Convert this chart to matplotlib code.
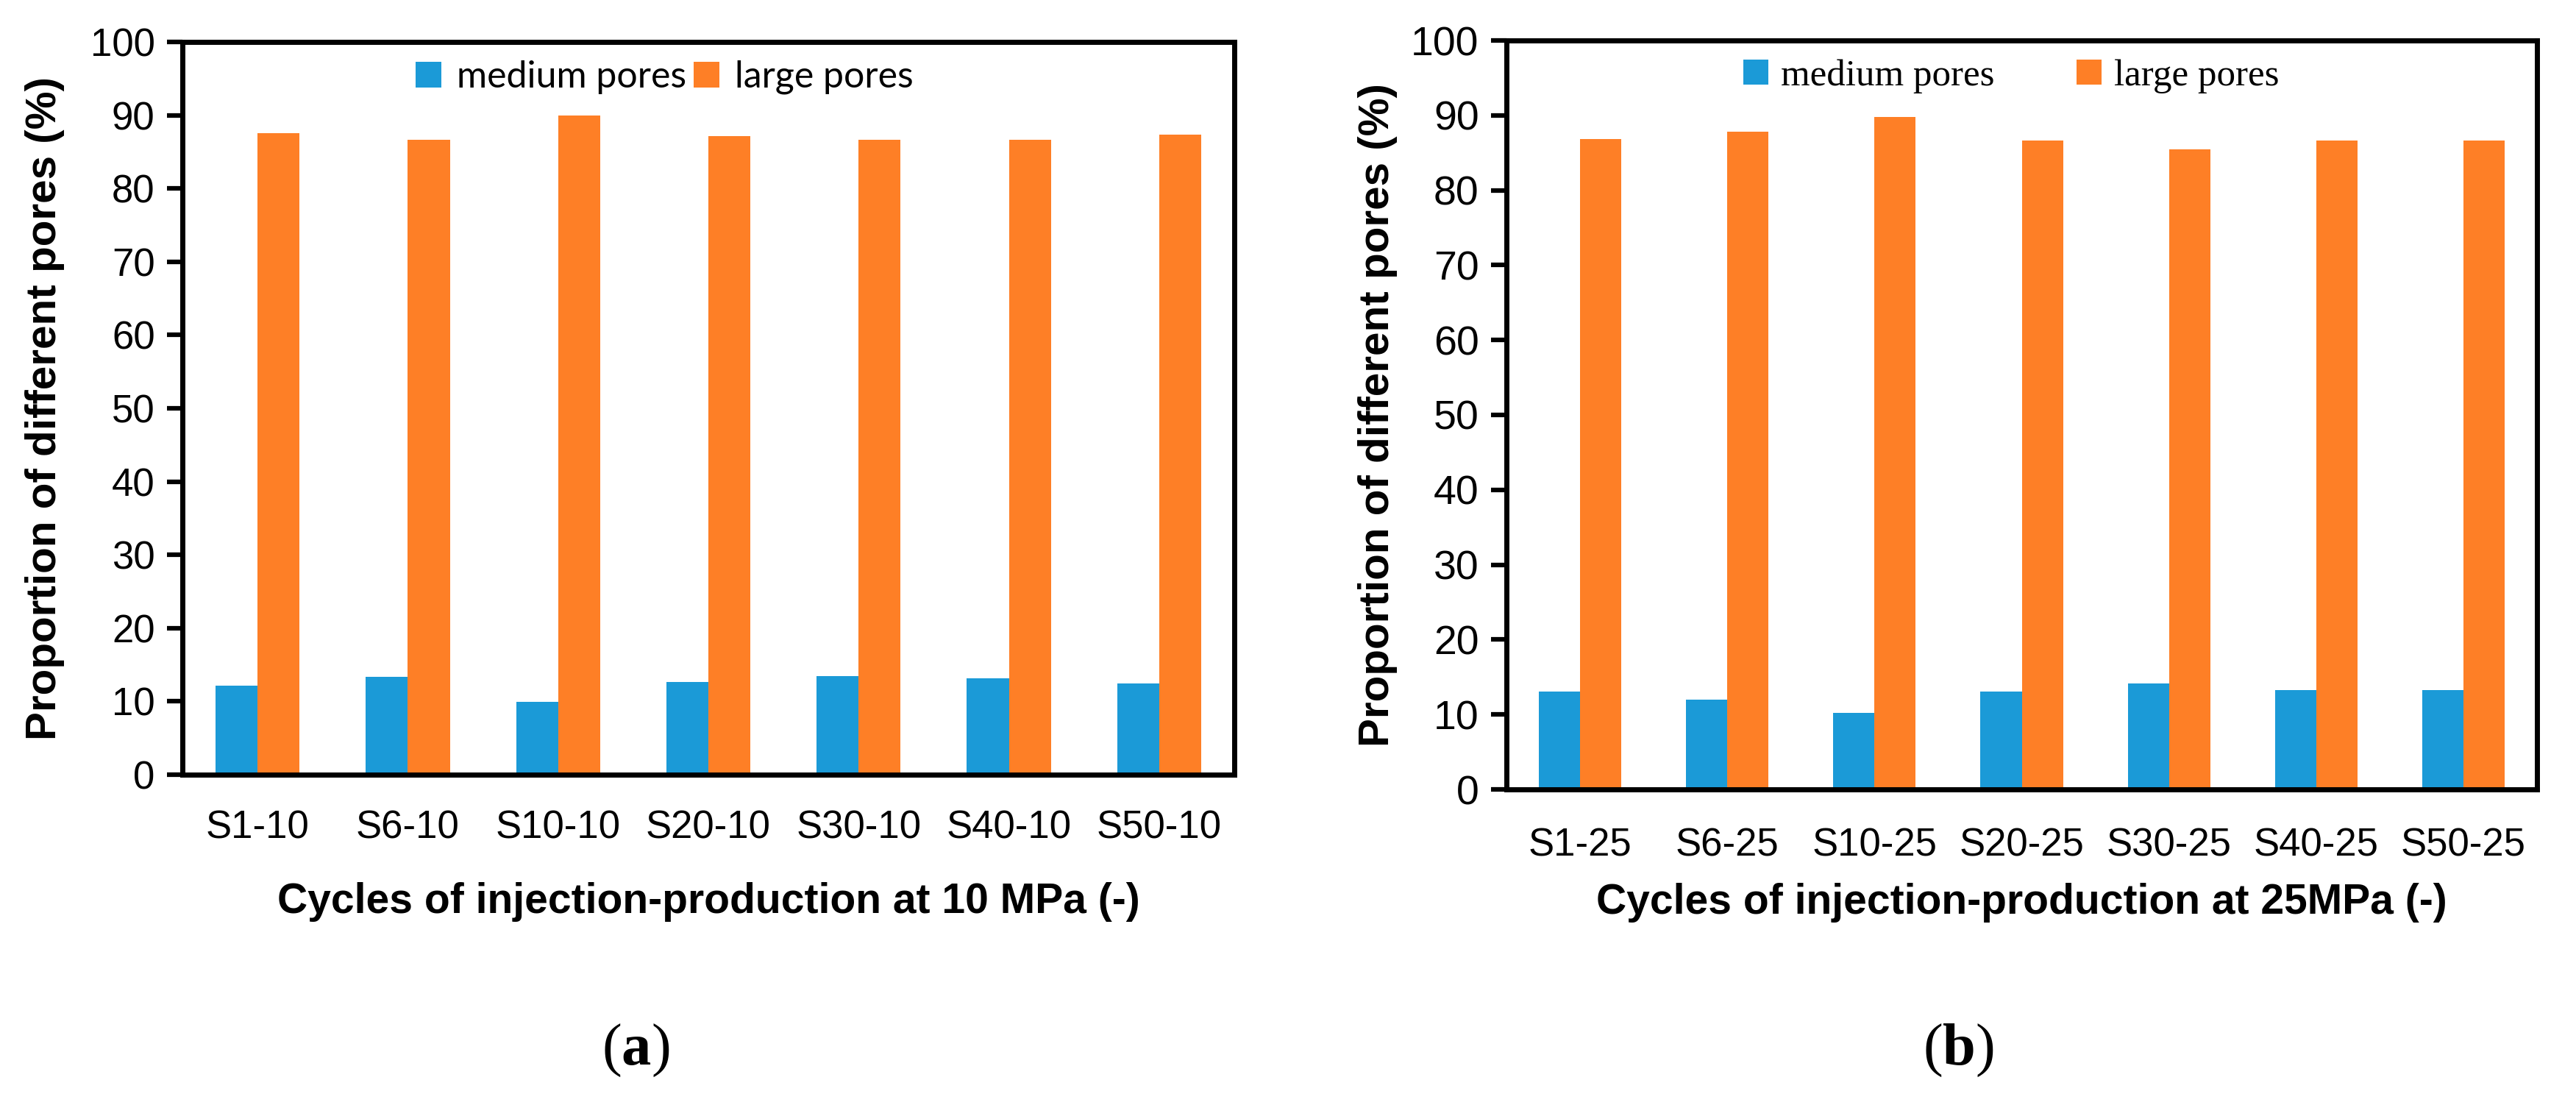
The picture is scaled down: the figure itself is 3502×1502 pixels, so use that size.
import matplotlib
matplotlib.use("Agg")
import matplotlib.pyplot as plt
from matplotlib.patches import Patch
import numpy as np

# ---- data ----
cats_a = ["S1-10", "S6-10", "S10-10", "S20-10", "S30-10", "S40-10", "S50-10"]
medium_a = [12.1, 13.4, 9.9, 12.7, 13.5, 13.2, 12.4]
large_a = [87.6, 86.6, 90.0, 87.1, 86.6, 86.6, 87.3]

cats_b = ["S1-25", "S6-25", "S10-25", "S20-25", "S30-25", "S40-25", "S50-25"]
medium_b = [13.1, 12.0, 10.2, 13.1, 14.1, 13.3, 13.3]
large_b = [86.8, 87.8, 89.8, 86.6, 85.5, 86.6, 86.6]

yticks = list(range(0, 101, 10))
series_names = ["medium pores", "large pores"]

BLUE = "#1b9ad7"
ORANGE = "#fe7f26"

plt.rcParams["font.family"] = ["Liberation Sans", "DejaVu Sans"]
plt.rcParams["mathtext.fontset"] = "custom"
plt.rcParams["mathtext.bf"] = "Liberation Serif:bold"
plt.rcParams["mathtext.rm"] = "Liberation Serif"

W, H = 3502, 1502
fig = plt.figure(figsize=(W / 100, H / 100), dpi=100)

def px_axes(x0, x1, ytop, ybot):
    return fig.add_axes([x0 / W, 1 - ybot / H, (x1 - x0) / W, (ybot - ytop) / H])

ax1 = px_axes(248, 1678, 57, 1053)
ax2 = px_axes(2048, 3449, 55, 1073)

bw = 0.28

def draw(ax, cats, med, lg, xlabel, ytick_fs, xpad, xlab_y, ylab_x):
    x = np.arange(len(cats))
    ax.bar(x - bw / 2, med, width=bw, color=BLUE, label=series_names[0], zorder=2)
    ax.bar(x + bw / 2, lg, width=bw, color=ORANGE, label=series_names[1], zorder=2)
    ax.set_xlim(-0.5, len(cats) - 0.5)
    ax.set_ylim(0, 100)
    ax.set_yticks(yticks)
    ax.set_xticks(x)
    ax.set_xticklabels(cats)
    for s in ax.spines.values():
        s.set_linewidth(5)
        s.set_color("black")
    ax.tick_params(axis="y", direction="out", length=15, width=4.5, pad=12,
                   labelsize=ytick_fs)
    ax.tick_params(axis="x", length=0, pad=xpad, labelsize=38)
    ax.set_xlabel(xlabel, fontsize=41, fontweight="bold")
    ax.xaxis.set_label_coords(0.5, xlab_y)
    ax.set_ylabel("Proportion of different pores (%)", fontsize=42, fontweight="bold")
    ax.yaxis.set_label_coords(ylab_x, 0.5)
    ax.yaxis.label.set_verticalalignment("center")

draw(ax1, cats_a, medium_a, large_a, "Cycles of injection-production at 10 MPa (-)",
     38, 34, -0.1466, -0.131)
draw(ax2, cats_b, medium_b, large_b, "Cycles of injection-production at 25MPa (-)",
     40, 37, -0.1248, -0.125)

h1 = [Patch(facecolor=BLUE, label=series_names[0]), Patch(facecolor=ORANGE, label=series_names[1])]
ax1.legend(handles=h1, loc="upper left", bbox_to_anchor=(0.2217, 0.975), ncol=2,
           frameon=False, prop={"family": "Lato", "size": 36},
           handlelength=0.7, handleheight=0.7, handletextpad=0.42,
           columnspacing=0.2, borderpad=0, borderaxespad=0)
ax2.legend(handles=h1, loc="upper left", bbox_to_anchor=((2370 - 2048) / 1401, 0.975), ncol=2,
           frameon=False, prop={"family": "Liberation Serif", "size": 36.7},
           handlelength=0.67, handleheight=0.67, handletextpad=0.33,
           columnspacing=2.18, borderpad=0, borderaxespad=0)

fig.text(864 / W, 1 - 1428 / H, r"($\mathbf{a}$)", fontsize=58, ha="center", va="center",
         family="Liberation Serif")
fig.text(2662 / W, 1 - 1428 / H, r"($\mathbf{b}$)", fontsize=58, ha="center", va="center",
         family="Liberation Serif")

fig.savefig("out.png", dpi=100, facecolor="white")
